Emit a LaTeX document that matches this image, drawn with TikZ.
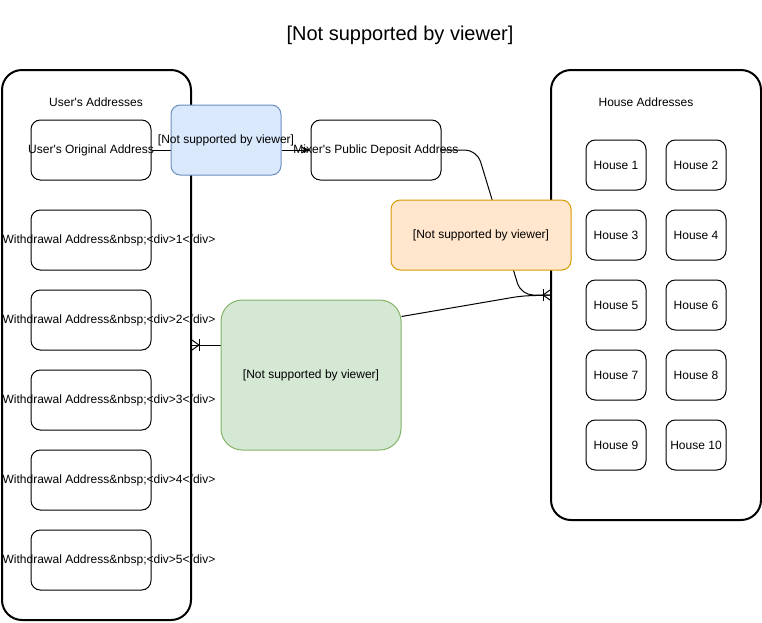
\documentclass[tikz,border=0pt]{standalone}
\usepackage{fontspec}
\setmainfont{Liberation Sans}
\usepackage{tikz}
\usetikzlibrary{calc,arrows.meta,backgrounds}

\definecolor{bluefill}{HTML}{DAE8FC}
\definecolor{bluedraw}{HTML}{6C8EBF}
\definecolor{orangefill}{HTML}{FFE6CC}
\definecolor{orangedraw}{HTML}{D79B00}
\definecolor{greenfill}{HTML}{D5E8D4}
\definecolor{greendraw}{HTML}{82B366}

\begin{document}
\begin{tikzpicture}[x=0.75pt,y=-0.75pt,
    txt/.style={font=\fontsize{9}{11}\selectfont},
    container/.style={draw, line width=1.5pt, rounded corners=15pt, inner sep=0pt},
    box/.style={draw, line width=0.75pt, rounded corners=7pt, inner sep=0pt,
        minimum width=90pt, minimum height=45pt, txt},
    housebox/.style={box, minimum width=45pt, minimum height=37.5pt},
    edge/.style={line width=0.75pt}]
        \useasboundingbox (0,0) rectangle (762,622);

        % Titel
        \node[font=\fontsize{15}{18}\selectfont] (title) at (400,35) {[Not supported by viewer]};

        % Behälter links und rechts
        \node[container, minimum width=141.75pt, minimum height=412.5pt] (ucont) at (96.5,345) {};
        \node[container, minimum width=157.5pt, minimum height=337.5pt] (hcont) at (656,295) {};
        \node[txt] (ulabel) at (96,102) {User\textquotesingle s Addresses};
        \node[txt] (hlabel) at (646,102) {House Addresses};

        % Adressen des Benutzers
        \node[box, label={[txt]center:{User\textquotesingle s Original Address}}] (orig) at (91,150) {};
        \foreach \i/\y in {1/240,2/320,3/400,4/480,5/560}
            \node[box, label={[txt, xshift=13.5pt]center:{Withdrawal Address\&nbsp;<div>\i</div>}}] (w\i) at (91,\y) {};

        % Häuser, zwei Spalten
        \foreach \i/\x/\y in {1/616/165,2/696/165,3/616/235,4/696/235,5/616/305,
                              6/696/305,7/616/375,8/696/375,9/616/445,10/696/445}
            \node[housebox] (h\i) at (\x,\y) {House \i};

        \node[box, minimum width=97.5pt, label={[txt]center:{Mixer\textquotesingle s Public Deposit Address}}] (mixer) at (376,150) {};

        % farbige Kästen
        \node[box, fill=bluefill, draw=bluedraw, minimum width=82.5pt, minimum height=52.5pt,
            label={[txt]center:{[Not supported by viewer]}}] (blue) at (226,140) {};
        \node[box, fill=orangefill, draw=orangedraw, minimum width=135pt, minimum height=52.5pt]
            (orange) at (481,235) {[Not supported by viewer]};
        \node[box, fill=greenfill, draw=greendraw, rounded corners=16pt, minimum width=135pt, minimum height=112.5pt]
            (green) at (311,375) {[Not supported by viewer]};

        \coordinate (hin) at (hcont.west);
        \coordinate (uin) at (ucont.east);

        \begin{scope}[on background layer]
        \draw[edge] (orig.east) -- (blue.west |- orig.east);
        \draw[edge, -{Stealth[length=7pt,width=5pt]}] (blue.east |- mixer.west) -- (mixer.west);
        \draw[edge, rounded corners=9pt] (mixer.east) -- (477,150) -- (521,295) -- (hin);
        \draw[edge, rounded corners=6pt] ($(green.north east)+(0,17)$) -- (521,296) -- (hin);
        \draw[edge] (green.west |- uin) -- (uin);
        \end{scope}

        % Krähenfüße
        \draw[edge] ($(hin)+(-7,-6)$) -- ++(0,12);
        \draw[edge] ($(hin)+(0,-5)$) -- ($(hin)+(-7,0)$) -- ($(hin)+(0,5)$);
        \draw[edge] ($(uin)+(7,-6)$) -- ++(0,12);
        \draw[edge] ($(uin)+(0,-5)$) -- ($(uin)+(7,0)$) -- ($(uin)+(0,5)$);
    \end{tikzpicture}
\end{document}
